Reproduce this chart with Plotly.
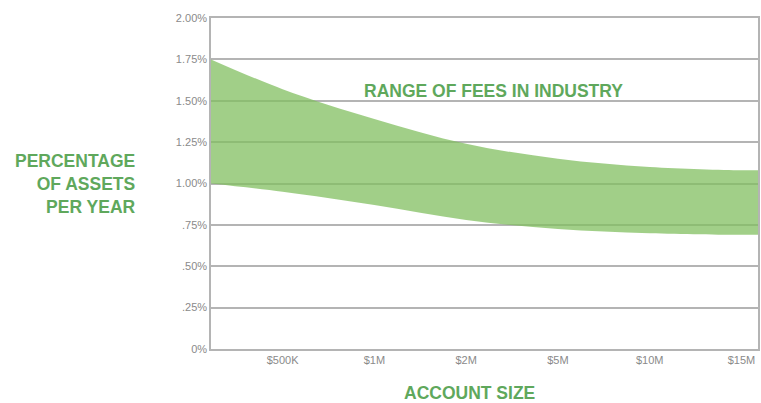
"""Range of advisory fees by account size."""

import plotly.graph_objects as go

ACCOUNT_SIZES = ["$500K", "$1M", "$2M", "$5M", "$10M", "$15M"]
TICK_POS = [1, 2, 3, 4, 5, 6]

# band edges (x in category units, y in percent)
BAND_X = [0.22, 1, 2, 3, 4, 5, 6, 6.18]
FEE_HIGH = [1.75, 1.57, 1.39, 1.24, 1.15, 1.10, 1.08, 1.08]
FEE_LOW = [1.00, 0.95, 0.87, 0.78, 0.725, 0.70, 0.69, 0.69]

Y_TICKS = [0, 0.25, 0.5, 0.75, 1.0, 1.25, 1.5, 1.75, 2.0]
Y_LABELS = ["0%", ".25%", ".50%", ".75%", "1.00%", "1.25%", "1.50%", "1.75%", "2.00%"]

GREEN_TEXT = "#5fa85c"
GREY_LINE = "#b4b4b4"
FONT = "Liberation Sans"

W, H = 761, 403
ML, MR, MT, MB = 211, 1, 18, 54

fig = go.Figure()
fig.add_trace(go.Scatter(
    x=BAND_X, y=FEE_LOW, mode="lines", line=dict(width=0, shape="spline"),
    hoverinfo="skip", showlegend=False,
))
fig.add_trace(go.Scatter(
    x=BAND_X, y=FEE_HIGH, mode="lines", line=dict(width=0, shape="spline"),
    fill="tonexty", fillcolor="rgba(128,190,95,0.74)",
    hoverinfo="skip", showlegend=False,
))

fig.update_layout(
    width=W, height=H,
    margin=dict(l=ML, r=MR, t=MT, b=MB),
    paper_bgcolor="white", plot_bgcolor="white",
    font=dict(family=FONT, color="#8a8a8a", size=11),
    xaxis=dict(
        range=[0.22, 6.18], tickvals=TICK_POS, ticktext=ACCOUNT_SIZES,
        showgrid=False, zeroline=False, showline=True, mirror=True,
        linecolor=GREY_LINE, linewidth=1.5, ticks="", ticklen=0,
    ),
    yaxis=dict(
        range=[0, 2.0], tickvals=Y_TICKS, ticktext=Y_LABELS,
        showgrid=True, gridcolor=GREY_LINE, gridwidth=1.5, zeroline=False,
        showline=True, mirror=True, linecolor=GREY_LINE, linewidth=1.5, ticks="",
    ),
)

plot_w = W - ML - MR
plot_h = H - MT - MB


def px_to_paper(px, py):
    """Window pixel -> paper coords."""
    return (px - ML) / plot_w, (H - MB - py) / plot_h


title_font = dict(family=FONT, size=17.5, color=GREEN_TEXT)

ax, ay = px_to_paper(495, 91)
fig.add_annotation(
    x=ax, y=ay, xref="paper", yref="paper", xanchor="center", yanchor="middle",
    text="<b>RANGE OF FEES IN INDUSTRY</b>", showarrow=False, font=title_font,
)
ax, ay = px_to_paper(138, 184)
fig.add_annotation(
    x=ax, y=ay, xref="paper", yref="paper", xanchor="right", yanchor="middle",
    align="right", text="<b>PERCENTAGE<br>OF ASSETS<br>PER YEAR</b>",
    showarrow=False, font=title_font,
)
ax, ay = px_to_paper(470, 393)
fig.add_annotation(
    x=ax, y=ay, xref="paper", yref="paper", xanchor="center", yanchor="middle",
    text="<b>ACCOUNT SIZE</b>", showarrow=False, font=title_font,
)

# drop the default page margin so the figure sits at the window corner
fig.write_html(
    "out.html",
    config={"displayModeBar": False},
    post_script=(
        "document.body.style.margin='0';"
        "document.documentElement.style.overflow='hidden';"
        "document.body.style.overflow='hidden';"
    ),
)
